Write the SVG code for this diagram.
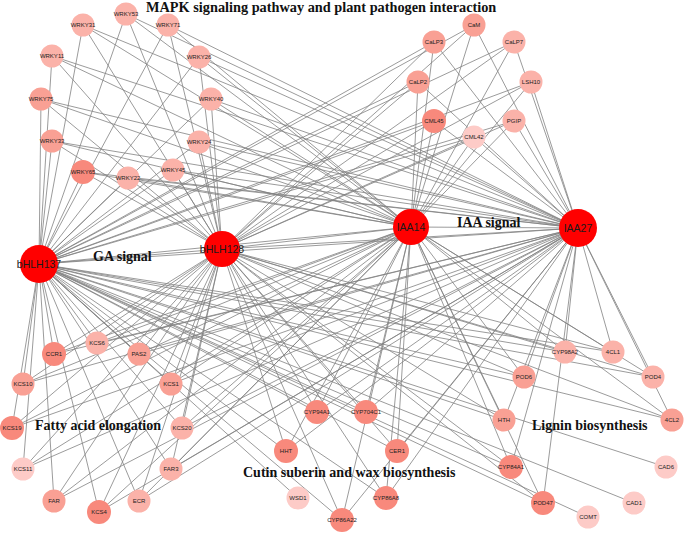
<svg xmlns="http://www.w3.org/2000/svg" width="685" height="533" viewBox="0 0 685 533">
<style>
.bg{fill:#ffffff}
#edges line{stroke:#828282;stroke-width:0.8}
.node text{font-family:"Liberation Sans",Arial,sans-serif;font-size:6px;fill:#222;text-anchor:middle}
.hub text{font-family:"Liberation Sans",Arial,sans-serif;font-size:10.5px;fill:#1a1a1a;text-anchor:middle}
.hub circle{fill:#ff0000}
.c1{fill:#f8897c}
.c2{fill:#f9a094}
.c3{fill:#fbb2a9}
.c4{fill:#fdcbc7}
.title{font-family:"Liberation Serif","Times New Roman",serif;font-weight:bold;font-size:14px;fill:#111}
</style>
<rect class="bg" x="0" y="0" width="685" height="533"/>
<g id="edges">
<line x1="39" y1="264" x2="222" y2="249"/><line x1="222" y1="249" x2="411" y2="227"/><line x1="411" y1="227" x2="578" y2="228"/>
<line x1="39" y1="264" x2="411" y2="227"/><line x1="39" y1="264" x2="578" y2="228"/><line x1="222" y1="249" x2="578" y2="228"/>
<line x1="39" y1="264" x2="126" y2="14"/><line x1="222" y1="249" x2="126" y2="14"/><line x1="411" y1="227" x2="126" y2="14"/><line x1="578" y1="228" x2="126" y2="14"/>
<line x1="39" y1="264" x2="83" y2="25"/><line x1="222" y1="249" x2="83" y2="25"/><line x1="411" y1="227" x2="83" y2="25"/><line x1="578" y1="228" x2="83" y2="25"/>
<line x1="39" y1="264" x2="168" y2="25"/><line x1="222" y1="249" x2="168" y2="25"/><line x1="411" y1="227" x2="168" y2="25"/><line x1="578" y1="228" x2="168" y2="25"/>
<line x1="39" y1="264" x2="52" y2="56"/><line x1="222" y1="249" x2="52" y2="56"/><line x1="411" y1="227" x2="52" y2="56"/><line x1="578" y1="228" x2="52" y2="56"/>
<line x1="39" y1="264" x2="199" y2="57"/><line x1="222" y1="249" x2="199" y2="57"/><line x1="411" y1="227" x2="199" y2="57"/><line x1="578" y1="228" x2="199" y2="57"/>
<line x1="39" y1="264" x2="41" y2="99"/><line x1="222" y1="249" x2="41" y2="99"/><line x1="411" y1="227" x2="41" y2="99"/><line x1="578" y1="228" x2="41" y2="99"/>
<line x1="39" y1="264" x2="211" y2="99"/><line x1="222" y1="249" x2="211" y2="99"/><line x1="411" y1="227" x2="211" y2="99"/><line x1="578" y1="228" x2="211" y2="99"/>
<line x1="39" y1="264" x2="52" y2="141"/><line x1="222" y1="249" x2="52" y2="141"/><line x1="411" y1="227" x2="52" y2="141"/><line x1="578" y1="228" x2="52" y2="141"/>
<line x1="39" y1="264" x2="199" y2="142"/><line x1="222" y1="249" x2="199" y2="142"/><line x1="411" y1="227" x2="199" y2="142"/><line x1="578" y1="228" x2="199" y2="142"/>
<line x1="39" y1="264" x2="83" y2="172"/><line x1="222" y1="249" x2="83" y2="172"/><line x1="411" y1="227" x2="83" y2="172"/><line x1="578" y1="228" x2="83" y2="172"/>
<line x1="39" y1="264" x2="128" y2="178"/><line x1="222" y1="249" x2="128" y2="178"/><line x1="411" y1="227" x2="128" y2="178"/><line x1="578" y1="228" x2="128" y2="178"/>
<line x1="39" y1="264" x2="173" y2="170"/><line x1="222" y1="249" x2="173" y2="170"/><line x1="411" y1="227" x2="173" y2="170"/><line x1="578" y1="228" x2="173" y2="170"/>
<line x1="39" y1="264" x2="474" y2="25"/><line x1="222" y1="249" x2="474" y2="25"/><line x1="411" y1="227" x2="474" y2="25"/><line x1="578" y1="228" x2="474" y2="25"/>
<line x1="39" y1="264" x2="434" y2="42"/><line x1="222" y1="249" x2="434" y2="42"/><line x1="411" y1="227" x2="434" y2="42"/><line x1="578" y1="228" x2="434" y2="42"/>
<line x1="39" y1="264" x2="514" y2="42"/><line x1="222" y1="249" x2="514" y2="42"/><line x1="411" y1="227" x2="514" y2="42"/><line x1="578" y1="228" x2="514" y2="42"/>
<line x1="39" y1="264" x2="418" y2="82"/><line x1="222" y1="249" x2="418" y2="82"/><line x1="411" y1="227" x2="418" y2="82"/><line x1="578" y1="228" x2="418" y2="82"/>
<line x1="39" y1="264" x2="531" y2="82"/><line x1="222" y1="249" x2="531" y2="82"/><line x1="411" y1="227" x2="531" y2="82"/><line x1="578" y1="228" x2="531" y2="82"/>
<line x1="39" y1="264" x2="434" y2="121"/><line x1="222" y1="249" x2="434" y2="121"/><line x1="411" y1="227" x2="434" y2="121"/><line x1="578" y1="228" x2="434" y2="121"/>
<line x1="39" y1="264" x2="514" y2="121"/><line x1="222" y1="249" x2="514" y2="121"/><line x1="411" y1="227" x2="514" y2="121"/><line x1="578" y1="228" x2="514" y2="121"/>
<line x1="39" y1="264" x2="474" y2="137"/><line x1="222" y1="249" x2="474" y2="137"/><line x1="411" y1="227" x2="474" y2="137"/><line x1="578" y1="228" x2="474" y2="137"/>
<line x1="39" y1="264" x2="97" y2="343"/><line x1="222" y1="249" x2="97" y2="343"/><line x1="411" y1="227" x2="97" y2="343"/><line x1="578" y1="228" x2="97" y2="343"/>
<line x1="39" y1="264" x2="54" y2="354"/><line x1="222" y1="249" x2="54" y2="354"/><line x1="411" y1="227" x2="54" y2="354"/><line x1="578" y1="228" x2="54" y2="354"/>
<line x1="39" y1="264" x2="139" y2="354"/><line x1="222" y1="249" x2="139" y2="354"/><line x1="411" y1="227" x2="139" y2="354"/><line x1="578" y1="228" x2="139" y2="354"/>
<line x1="39" y1="264" x2="23" y2="384"/><line x1="222" y1="249" x2="23" y2="384"/><line x1="411" y1="227" x2="23" y2="384"/><line x1="578" y1="228" x2="23" y2="384"/>
<line x1="39" y1="264" x2="171" y2="384"/><line x1="222" y1="249" x2="171" y2="384"/><line x1="411" y1="227" x2="171" y2="384"/><line x1="578" y1="228" x2="171" y2="384"/>
<line x1="39" y1="264" x2="12" y2="428"/><line x1="222" y1="249" x2="12" y2="428"/><line x1="411" y1="227" x2="12" y2="428"/><line x1="578" y1="228" x2="12" y2="428"/>
<line x1="39" y1="264" x2="182" y2="428"/><line x1="222" y1="249" x2="182" y2="428"/><line x1="411" y1="227" x2="182" y2="428"/><line x1="578" y1="228" x2="182" y2="428"/>
<line x1="39" y1="264" x2="23" y2="469"/><line x1="222" y1="249" x2="23" y2="469"/><line x1="411" y1="227" x2="23" y2="469"/><line x1="578" y1="228" x2="23" y2="469"/>
<line x1="39" y1="264" x2="171" y2="469"/><line x1="222" y1="249" x2="171" y2="469"/><line x1="411" y1="227" x2="171" y2="469"/><line x1="578" y1="228" x2="171" y2="469"/>
<line x1="39" y1="264" x2="54" y2="501"/><line x1="222" y1="249" x2="54" y2="501"/><line x1="411" y1="227" x2="54" y2="501"/><line x1="578" y1="228" x2="54" y2="501"/>
<line x1="39" y1="264" x2="139" y2="501"/><line x1="222" y1="249" x2="139" y2="501"/><line x1="411" y1="227" x2="139" y2="501"/><line x1="578" y1="228" x2="139" y2="501"/>
<line x1="39" y1="264" x2="99" y2="512"/><line x1="222" y1="249" x2="99" y2="512"/><line x1="411" y1="227" x2="99" y2="512"/><line x1="578" y1="228" x2="99" y2="512"/>
<line x1="39" y1="264" x2="317" y2="412"/><line x1="222" y1="249" x2="317" y2="412"/><line x1="411" y1="227" x2="317" y2="412"/><line x1="578" y1="228" x2="317" y2="412"/>
<line x1="39" y1="264" x2="366" y2="412"/><line x1="222" y1="249" x2="366" y2="412"/><line x1="411" y1="227" x2="366" y2="412"/><line x1="578" y1="228" x2="366" y2="412"/>
<line x1="39" y1="264" x2="286" y2="451"/><line x1="222" y1="249" x2="286" y2="451"/><line x1="411" y1="227" x2="286" y2="451"/><line x1="578" y1="228" x2="286" y2="451"/>
<line x1="39" y1="264" x2="397" y2="451"/><line x1="222" y1="249" x2="397" y2="451"/><line x1="411" y1="227" x2="397" y2="451"/><line x1="578" y1="228" x2="397" y2="451"/>
<line x1="39" y1="264" x2="386" y2="498"/><line x1="222" y1="249" x2="386" y2="498"/><line x1="411" y1="227" x2="386" y2="498"/><line x1="578" y1="228" x2="386" y2="498"/>
<line x1="39" y1="264" x2="342" y2="520"/><line x1="222" y1="249" x2="342" y2="520"/><line x1="411" y1="227" x2="342" y2="520"/><line x1="578" y1="228" x2="342" y2="520"/>
<line x1="39" y1="264" x2="565" y2="352"/><line x1="222" y1="249" x2="565" y2="352"/><line x1="411" y1="227" x2="565" y2="352"/><line x1="578" y1="228" x2="565" y2="352"/>
<line x1="39" y1="264" x2="613" y2="352"/><line x1="222" y1="249" x2="613" y2="352"/><line x1="411" y1="227" x2="613" y2="352"/><line x1="578" y1="228" x2="613" y2="352"/>
<line x1="39" y1="264" x2="524" y2="377"/><line x1="222" y1="249" x2="524" y2="377"/><line x1="411" y1="227" x2="524" y2="377"/><line x1="578" y1="228" x2="524" y2="377"/>
<line x1="39" y1="264" x2="653" y2="377"/><line x1="222" y1="249" x2="653" y2="377"/><line x1="411" y1="227" x2="653" y2="377"/><line x1="578" y1="228" x2="653" y2="377"/>
<line x1="39" y1="264" x2="504" y2="420"/><line x1="222" y1="249" x2="504" y2="420"/><line x1="411" y1="227" x2="504" y2="420"/><line x1="578" y1="228" x2="504" y2="420"/>
<line x1="39" y1="264" x2="672" y2="420"/><line x1="222" y1="249" x2="672" y2="420"/><line x1="411" y1="227" x2="672" y2="420"/><line x1="578" y1="228" x2="672" y2="420"/>
<line x1="39" y1="264" x2="511" y2="467"/><line x1="222" y1="249" x2="511" y2="467"/><line x1="411" y1="227" x2="511" y2="467"/><line x1="578" y1="228" x2="511" y2="467"/>
<line x1="39" y1="264" x2="543" y2="503"/><line x1="222" y1="249" x2="543" y2="503"/><line x1="411" y1="227" x2="543" y2="503"/><line x1="578" y1="228" x2="543" y2="503"/>
<line x1="39" y1="264" x2="298" y2="498"/>
<line x1="39" y1="264" x2="666" y2="467"/>
<line x1="39" y1="264" x2="634" y2="503"/>
<line x1="39" y1="264" x2="588" y2="517"/>
</g>
<g id="labels">
<text class="title" x="146" y="12" style="font-size:14.3px">MAPK signaling pathway and plant pathogen interaction</text>
<text class="title" x="93" y="261">GA signal</text>
<text class="title" x="457" y="227">IAA signal</text>
<text class="title" x="35" y="430">Fatty acid elongation</text>
<text class="title" x="532" y="430">Lignin biosynthesis</text>
<text class="title" x="243" y="477">Cutin suberin and wax biosynthesis</text>
</g>
<g id="nodes">
<g id="n-bHLH137" class="hub"><circle cx="39" cy="264" r="19"/><text x="39" y="268">bHLH137</text></g>
<g id="n-bHLH128" class="hub"><circle cx="222" cy="249" r="18"/><text x="222" y="253">bHLH128</text></g>
<g id="n-IAA14" class="hub"><circle cx="411" cy="227" r="18"/><text x="411" y="231">IAA14</text></g>
<g id="n-IAA27" class="hub"><circle cx="578" cy="228" r="19"/><text x="578" y="232">IAA27</text></g>
<g id="n-WRKY53" class="node"><circle class="c3" cx="126" cy="14" r="11.5"/><text x="126" y="16">WRKY53</text></g>
<g id="n-WRKY31" class="node"><circle class="c3" cx="83" cy="25" r="11.5"/><text x="83" y="27">WRKY31</text></g>
<g id="n-WRKY71" class="node"><circle class="c3" cx="168" cy="25" r="11.5"/><text x="168" y="27">WRKY71</text></g>
<g id="n-WRKY11" class="node"><circle class="c3" cx="52" cy="56" r="11.5"/><text x="52" y="58">WRKY11</text></g>
<g id="n-WRKY26" class="node"><circle class="c3" cx="199" cy="57" r="11.5"/><text x="199" y="59">WRKY26</text></g>
<g id="n-WRKY75" class="node"><circle class="c2" cx="41" cy="99" r="11.5"/><text x="41" y="101">WRKY75</text></g>
<g id="n-WRKY40" class="node"><circle class="c3" cx="211" cy="99" r="11.5"/><text x="211" y="101">WRKY40</text></g>
<g id="n-WRKY33" class="node"><circle class="c2" cx="52" cy="141" r="11.5"/><text x="52" y="143">WRKY33</text></g>
<g id="n-WRKY24" class="node"><circle class="c3" cx="199" cy="142" r="11.5"/><text x="199" y="144">WRKY24</text></g>
<g id="n-WRKY65" class="node"><circle class="c1" cx="83" cy="172" r="12"/><text x="83" y="174">WRKY65</text></g>
<g id="n-WRKY22" class="node"><circle class="c3" cx="128" cy="178" r="11.5"/><text x="128" y="180">WRKY22</text></g>
<g id="n-WRKY45" class="node"><circle class="c3" cx="173" cy="170" r="11.5"/><text x="173" y="172">WRKY45</text></g>
<g id="n-CaM" class="node"><circle class="c2" cx="474" cy="25" r="11.5"/><text x="474" y="27">CaM</text></g>
<g id="n-CaLP3" class="node"><circle class="c2" cx="434" cy="42" r="11.5"/><text x="434" y="44">CaLP3</text></g>
<g id="n-CaLP7" class="node"><circle class="c3" cx="514" cy="42" r="11.5"/><text x="514" y="44">CaLP7</text></g>
<g id="n-CaLP2" class="node"><circle class="c2" cx="418" cy="82" r="11.5"/><text x="418" y="84">CaLP2</text></g>
<g id="n-LSH10" class="node"><circle class="c3" cx="531" cy="82" r="11.5"/><text x="531" y="84">LSH10</text></g>
<g id="n-CML45" class="node"><circle class="c1" cx="434" cy="121" r="12"/><text x="434" y="123">CML45</text></g>
<g id="n-PGIP" class="node"><circle class="c3" cx="514" cy="121" r="11.5"/><text x="514" y="123">PGIP</text></g>
<g id="n-CML42" class="node"><circle class="c4" cx="474" cy="137" r="11.5"/><text x="474" y="139">CML42</text></g>
<g id="n-KCS6" class="node"><circle class="c3" cx="97" cy="343" r="11.5"/><text x="97" y="345">KCS6</text></g>
<g id="n-CCR1" class="node"><circle class="c1" cx="54" cy="354" r="12"/><text x="54" y="356">CCR1</text></g>
<g id="n-PAS2" class="node"><circle class="c2" cx="139" cy="354" r="11.5"/><text x="139" y="356">PAS2</text></g>
<g id="n-KCS10" class="node"><circle class="c2" cx="23" cy="384" r="11.5"/><text x="23" y="386">KCS10</text></g>
<g id="n-KCS1" class="node"><circle class="c2" cx="171" cy="384" r="11.5"/><text x="171" y="386">KCS1</text></g>
<g id="n-KCS19" class="node"><circle class="c1" cx="12" cy="428" r="12"/><text x="12" y="430">KCS19</text></g>
<g id="n-KCS20" class="node"><circle class="c3" cx="182" cy="428" r="11.5"/><text x="182" y="430">KCS20</text></g>
<g id="n-KCS11" class="node"><circle class="c4" cx="23" cy="469" r="11.5"/><text x="23" y="471">KCS11</text></g>
<g id="n-FAR3" class="node"><circle class="c3" cx="171" cy="469" r="11.5"/><text x="171" y="471">FAR3</text></g>
<g id="n-FAR" class="node"><circle class="c2" cx="54" cy="501" r="11.5"/><text x="54" y="503">FAR</text></g>
<g id="n-ECR" class="node"><circle class="c3" cx="139" cy="501" r="11.5"/><text x="139" y="503">ECR</text></g>
<g id="n-KCS4" class="node"><circle class="c1" cx="99" cy="512" r="12"/><text x="99" y="514">KCS4</text></g>
<g id="n-CYP94A1" class="node"><circle class="c1" cx="317" cy="412" r="12"/><text x="317" y="414">CYP94A1</text></g>
<g id="n-CYP704C1" class="node"><circle class="c1" cx="366" cy="412" r="12"/><text x="366" y="414">CYP704C1</text></g>
<g id="n-HHT" class="node"><circle class="c1" cx="286" cy="451" r="12"/><text x="286" y="453">HHT</text></g>
<g id="n-CER1" class="node"><circle class="c1" cx="397" cy="451" r="12"/><text x="397" y="453">CER1</text></g>
<g id="n-WSD1" class="node"><circle class="c4" cx="298" cy="498" r="11.5"/><text x="298" y="500">WSD1</text></g>
<g id="n-CYP86A8" class="node"><circle class="c1" cx="386" cy="498" r="12"/><text x="386" y="500">CYP86A8</text></g>
<g id="n-CYP86A22" class="node"><circle class="c1" cx="342" cy="520" r="12"/><text x="342" y="522">CYP86A22</text></g>
<g id="n-CYP98A2" class="node"><circle class="c3" cx="565" cy="352" r="11.5"/><text x="565" y="354">CYP98A2</text></g>
<g id="n-4CL1" class="node"><circle class="c3" cx="613" cy="352" r="11.5"/><text x="613" y="354">4CL1</text></g>
<g id="n-POD6" class="node"><circle class="c2" cx="524" cy="377" r="11.5"/><text x="524" y="379">POD6</text></g>
<g id="n-POD4" class="node"><circle class="c3" cx="653" cy="377" r="11.5"/><text x="653" y="379">POD4</text></g>
<g id="n-HTH" class="node"><circle class="c2" cx="504" cy="420" r="11.5"/><text x="504" y="422">HTH</text></g>
<g id="n-4CL2" class="node"><circle class="c2" cx="672" cy="420" r="11.5"/><text x="672" y="422">4CL2</text></g>
<g id="n-CYP84A1" class="node"><circle class="c1" cx="511" cy="467" r="12"/><text x="511" y="469">CYP84A1</text></g>
<g id="n-CAD6" class="node"><circle class="c4" cx="666" cy="467" r="11.5"/><text x="666" y="469">CAD6</text></g>
<g id="n-POD47" class="node"><circle class="c1" cx="543" cy="503" r="12"/><text x="543" y="505">POD47</text></g>
<g id="n-CAD1" class="node"><circle class="c4" cx="634" cy="503" r="11.5"/><text x="634" y="505">CAD1</text></g>
<g id="n-COMT" class="node"><circle class="c4" cx="588" cy="517" r="11.5"/><text x="588" y="519">COMT</text></g>
</g>
</svg>
